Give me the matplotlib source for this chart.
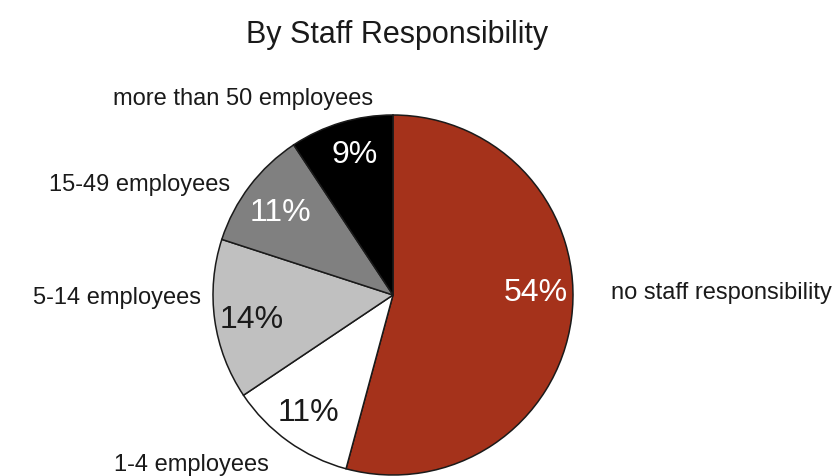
import matplotlib.pyplot as plt

plt.rcParams['font.family'] = ['Liberation Sans', 'DejaVu Sans']

categories = ['no staff responsibility', '1-4 employees', '5-14 employees',
              '15-49 employees', 'more than 50 employees']
shares = [54.2, 11.4, 14.4, 10.7, 9.3]
colors = ['#a5321b', '#ffffff', '#c0c0c0', '#808080', '#000000']
pct_colors = ['white', '#1a1a1a', '#1a1a1a', 'white', 'white']

# pie centre / radius in pixels, used to place text
cx, cy, r = 393, 295, 180
W, H = 833, 476


def px(x, y):
    return (x - cx) / r, (cy - y) / r


fig = plt.figure(figsize=(W / 100, H / 100), dpi=100)
ax = fig.add_axes([0, 0, 1, 1])

wedges, texts, autotexts = ax.pie(
    shares, colors=colors, startangle=90, counterclock=False, radius=1,
    autopct='%.0f%%', textprops={'fontsize': 23},
    wedgeprops={'edgecolor': '#1a1a1a', 'linewidth': 1.1})

ax.set_xlim(-cx / r, (W - cx) / r)
ax.set_ylim(-(H - cy) / r, cy / r)
ax.set_aspect('equal')
ax.axis('off')

pct_pos = [(536, 293), (308, 413), (252, 320), (280, 213), (355, 155)]
for t, c, p in zip(autotexts, pct_colors, pct_pos):
    t.set_color(c)
    t.set_position(px(*p))

label_pos = [(611, 293, 'left'), (191, 465, 'center'), (201, 298, 'right'),
             (230, 185, 'right'), (243, 99, 'center')]
for name, (x, y, ha) in zip(categories, label_pos):
    ax.text(*px(x, y), name, ha=ha, va='center', fontsize=17, color='#1a1a1a')

ax.text(*px(397, 35), 'By Staff Responsibility', ha='center', va='center',
        fontsize=22, color='#1a1a1a')

fig.savefig('out.png', dpi=100)
